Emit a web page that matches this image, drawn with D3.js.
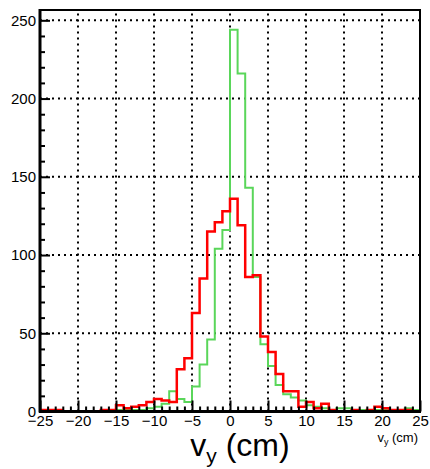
<!DOCTYPE html>
<html>
<head>
<meta charset="utf-8">
<script src="https://cdn.jsdelivr.net/npm/d3@7"></script>
<style>
  body { margin: 0; background: #fff; }
  svg { display: block; font-family: "Liberation Sans", Arial, sans-serif; }
</style>
</head>
<body>
<svg id="chart" width="430" height="469"></svg>
<script>
// bin lower edges, width 1 cm, -25 .. 24
const binEdges = d3.range(-25, 25)

// green histogram (narrow)
const greenCounts = [
  0, 0, 0, 0, 0, 0, 0, 0, 0, 1,
  1, 1, 1, 1, 2, 3, 5, 13, 8, 6,
  16, 30, 46, 104, 116, 244, 216, 143, 86, 43,
  29, 17, 11, 9, 7, 4, 3, 2, 1, 2,
  2, 1, 1, 1, 1, 1, 0, 1, 2, 1
]

// red histogram (wide)
const redCounts = [
  1, 1, 1, 0, 0, 0, 0, 0, 1, 1,
  4, 2, 3, 4, 6, 8, 7, 6, 27, 34,
  63, 85, 115, 121, 128, 136, 119, 86, 87, 48,
  38, 24, 13, 13, 3, 6, 2, 5, 1, 0,
  0, 1, 0, 1, 3, 2, 1, 1, 1, 0
]

const xTicks = [-25, -20, -15, -10, -5, 0, 5, 10, 15, 20, 25]
const yTicks = [0, 50, 100, 150, 200, 250]

const svg = d3.select('#chart')
const padL = 40, padR = 420, padT = 10, padB = 411.5

const x = d3.scaleLinear().domain([-25, 25]).range([padL, padR])
const y = d3.scaleLinear().domain([0, 256.6]).range([padB, padT])

// dotted grid
const grid = svg.append('g').attr('stroke', '#000').attr('stroke-width', 2).attr('stroke-dasharray', '2,4')
grid.selectAll('.gx').data(xTicks.slice(1, -1)).enter().append('line')
  .attr('x1', d => x(d)).attr('x2', d => x(d)).attr('y1', padB).attr('y2', padT)
grid.selectAll('.gy').data(yTicks.slice(1)).enter().append('line')
  .attr('x1', padL).attr('x2', padR).attr('y1', d => y(d)).attr('y2', d => y(d))

// histograms as steps
function steps(counts) {
  const pts = binEdges.map((e, i) => [e, counts[i]])
  pts.push([25, counts[counts.length - 1]])
  return d3.line().x(d => x(d[0])).y(d => y(d[1])).curve(d3.curveStepAfter)(pts)
}

svg.append('path').attr('d', steps(greenCounts)).attr('fill', 'none')
  .attr('stroke', '#5ad65a').attr('stroke-width', 2)
svg.append('path').attr('d', steps(redCounts)).attr('fill', 'none')
  .attr('stroke', '#ff0000').attr('stroke-width', 2.5)

// axes
const yAxis = svg.append('g').attr('transform', `translate(${padL},0)`)
  .call(d3.axisLeft(y).tickValues(yTicks).tickSize(-10).tickPadding(4))
yAxis.append('g').call(d3.axisLeft(y).tickValues(d3.range(10, 256, 10).filter(v => v % 50)).tickSize(-5).tickFormat(''))

const xAxis = svg.append('g').attr('transform', `translate(0,${padB})`)
  .call(d3.axisBottom(x).tickValues(xTicks).tickSize(-11).tickPadding(4))
xAxis.append('g').call(d3.axisBottom(x).tickValues(d3.range(-24, 25).filter(v => v % 5)).tickSize(-5).tickFormat(''))

svg.selectAll('.domain').remove()
svg.selectAll('.tick line').attr('stroke', '#000').attr('stroke-width', 2)
svg.selectAll('.tick text').attr('font-size', 15).attr('fill', '#000')
  .attr('font-family', '"Liberation Sans", Arial, sans-serif')

// frame
svg.append('rect').attr('x', padL).attr('y', padT).attr('width', padR - padL).attr('height', padB - padT)
  .attr('fill', 'none').attr('stroke', '#000').attr('stroke-width', 2)
svg.append('line').attr('x1', padL).attr('x2', padL).attr('y1', padT - 1).attr('y2', padB + 1)
  .attr('stroke', '#000').attr('stroke-width', 3)
svg.append('line').attr('x1', padL - 1).attr('x2', padR + 1).attr('y1', padB).attr('y2', padB)
  .attr('stroke', '#000').attr('stroke-width', 3)

// small axis title
const small = svg.append('text').attr('x', 418).attr('y', 442).attr('text-anchor', 'end')
  .attr('font-size', 13).attr('fill', '#000')
small.append('tspan').text('v')
small.append('tspan').attr('font-size', 9).attr('dy', 3).text('y')
small.append('tspan').attr('dy', -3).text(' (cm)')

// big title
const big = svg.append('text').attr('x', 240).attr('y', 456).attr('text-anchor', 'middle')
  .attr('font-size', 32).attr('fill', '#000')
big.append('tspan').text('v')
big.append('tspan').attr('font-size', 21).attr('dy', 7).text('y')
big.append('tspan').attr('dy', -7).text(' (cm)')
</script>
</body>
</html>
